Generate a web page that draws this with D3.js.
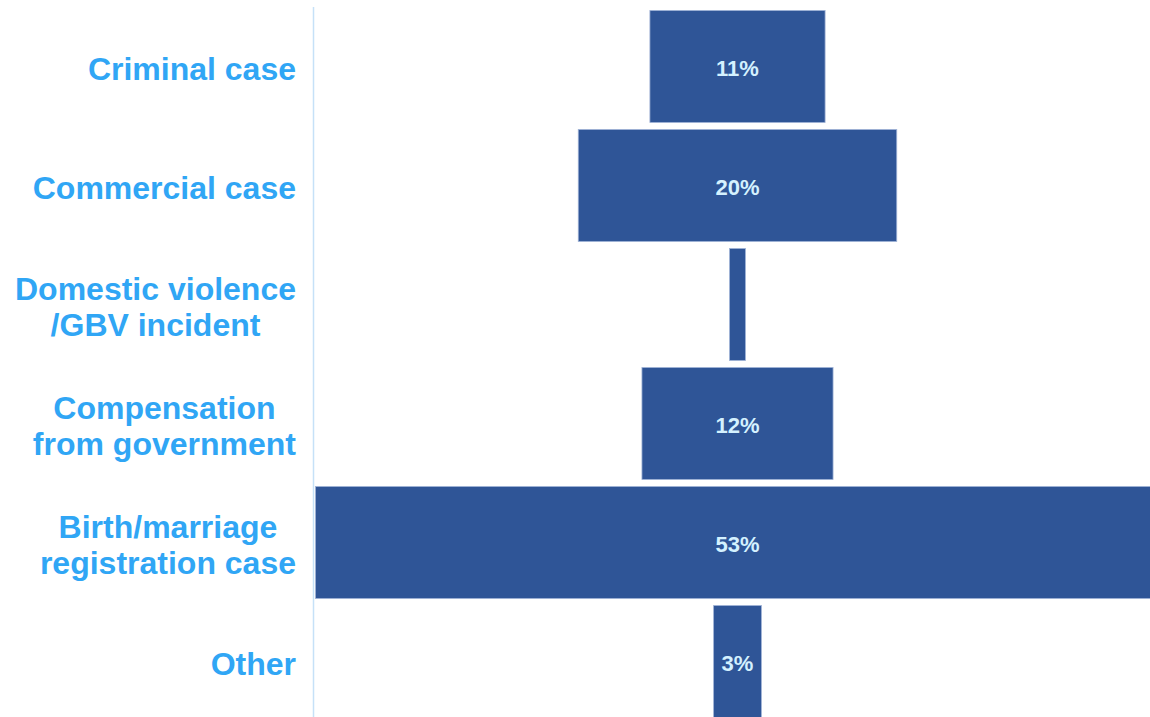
<!DOCTYPE html>
<html>
<head>
<meta charset="utf-8">
<script src="https://cdn.jsdelivr.net/npm/d3@7"></script>
<style>
  body { margin: 0; background: #fff; }
  svg { display: block; }
</style>
</head>
<body>
<div id="chart"></div>
<script>
// categories (each entry = lines of the label) and their shares in %
var categories = [
  ["Criminal case"],
  ["Commercial case"],
  ["Domestic violence", "/GBV incident"],
  ["Compensation", "from government"],
  ["Birth/marriage", "registration case"],
  ["Other"]
];
var values = [11, 20, 1, 12, 53, 3];
var valueLabels = ["11%", "20%", "1%", "12%", "53%", "3%"];

(function drawFunnel() {
  var W = 1150, H = 717;
  var axisX = 313.5;
  var labelRight = 296;

  var svg = d3.select("#chart").append("svg")
    .attr("width", W)
    .attr("height", H);

  var rows = d3.range(categories.length);

  var yScale = d3.scaleBand()
    .domain(rows)
    .range([10.5, 717.5])
    .paddingInner(0.059)
    .paddingOuter(0);

  // centred bars: value v spans [-v/2, v/2]
  var maxVal = d3.max(values);
  var xScale = d3.scaleLinear()
    .domain([-maxVal / 2, maxVal / 2])
    .range([315.5, 1159.5]);

  svg.append("g")
    .selectAll("rect")
    .data(rows)
    .enter()
    .append("rect")
    .attr("x", function(i) { return xScale(-values[i] / 2); })
    .attr("y", function(i) { return yScale(i); })
    .attr("width", function(i) { return xScale(values[i] / 2) - xScale(-values[i] / 2); })
    .attr("height", yScale.bandwidth())
    .attr("fill", "#2f5597")
    .attr("stroke", "#9fb2d6")
    .attr("stroke-width", 0.8);

  // value labels, only where they fit inside the bar
  svg.append("g")
    .selectAll("text")
    .data(rows)
    .enter()
    .append("text")
    .attr("x", xScale(0))
    .attr("y", function(i) { return yScale(i) + yScale.bandwidth() / 2 + 2; })
    .attr("dy", "0.36em")
    .attr("text-anchor", "middle")
    .style("font-family", "'Liberation Sans', Arial, sans-serif")
    .style("font-weight", "bold")
    .style("font-size", "22px")
    .attr("fill", "#d4f1ff")
    .text(function(i) { return valueLabels[i]; })
    .each(function(i) {
      var bw = xScale(values[i] / 2) - xScale(-values[i] / 2);
      if (this.getComputedTextLength() > bw) d3.select(this).remove();
    });

  // vertical axis line
  svg.append("line")
    .attr("x1", axisX).attr("x2", axisX)
    .attr("y1", 7).attr("y2", H)
    .attr("stroke", "#c6e1f8")
    .attr("stroke-width", 1.5);

  // category labels: block right-aligned, lines centred within block
  var lineH = 36;
  var labels = svg.append("g")
    .selectAll("text")
    .data(rows)
    .enter()
    .append("text")
    .attr("text-anchor", "middle")
    .style("font-family", "'Liberation Sans', Arial, sans-serif")
    .style("font-weight", "bold")
    .style("font-size", "32px")
    .attr("fill", "#30a6f5");

  labels.each(function(i) {
    var t = d3.select(this);
    var lines = categories[i];
    var cy = yScale(i) + yScale.bandwidth() / 2 + 1.5;
    var first = cy - (lines.length - 1) * lineH / 2;
    lines.forEach(function(l, k) {
      t.append("tspan")
        .attr("y", first + k * lineH)
        .attr("dy", "0.36em")
        .text(l);
    });
    var maxW = 0;
    t.selectAll("tspan").each(function() {
      maxW = Math.max(maxW, this.getComputedTextLength());
    });
    t.selectAll("tspan").attr("x", labelRight - maxW / 2);
  });
})();
</script>
</body>
</html>
